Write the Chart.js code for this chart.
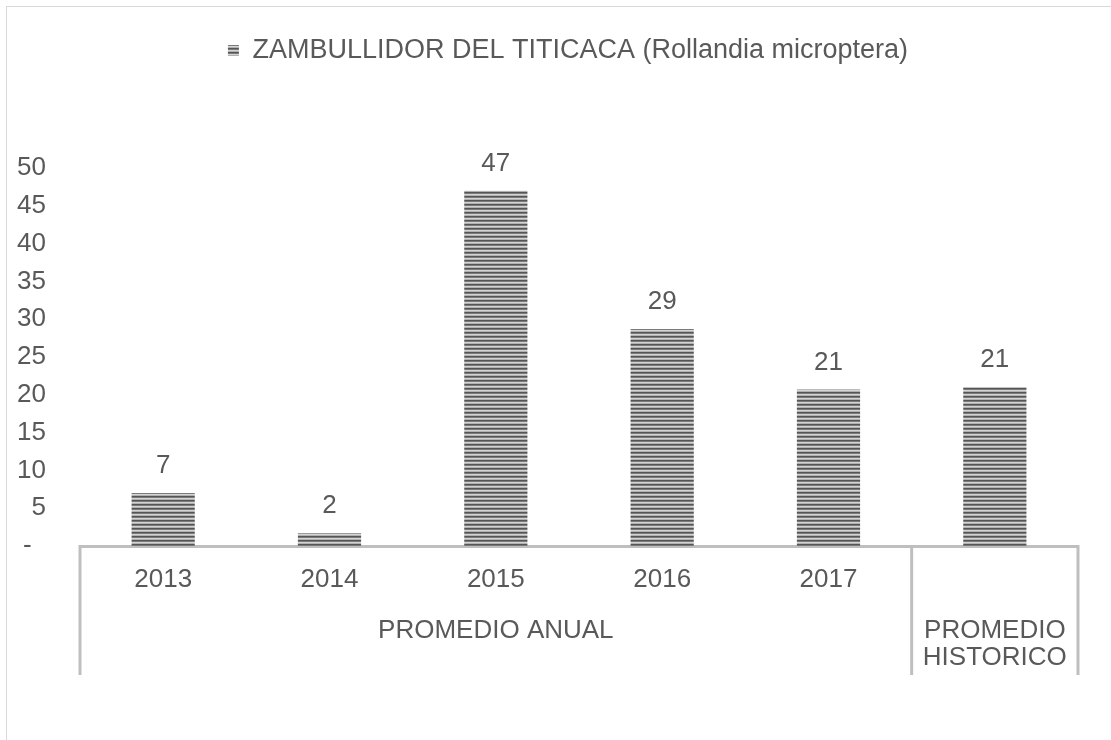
<!DOCTYPE html>
<html>
<head>
<meta charset="utf-8">
<script src="https://cdn.jsdelivr.net/npm/chart.js@4/dist/chart.umd.min.js"></script>
<style>
  html, body { margin: 0; padding: 0; background: #fff; overflow: hidden; }
  #wrap { position: relative; width: 1111px; height: 740px; }
  #frame { position: absolute; left: 6px; top: 6px; width: 1200px; height: 800px; border: 1px solid #d9d9d9; }
  canvas { position: absolute; left: 0; top: 0; }
</style>
</head>
<body>
<div id="wrap">
  <div id="frame"></div>
  <canvas id="grafico" width="1111" height="740"></canvas>
</div>
<script>
// Datos
const categorias = ['2013', '2014', '2015', '2016', '2017', ''];
const valores = [7, 1.7, 47, 28.7, 20.7, 21];
const grupos = [['PROMEDIO ANUAL'], ['PROMEDIO', 'HISTORICO']];
const gruposSpan = [5, 1];
const serie = 'ZAMBULLIDOR DEL TITICACA (Rollandia microptera)';

const gris = '#595959';
const fuente = 'Liberation Sans, Arial, sans-serif';
const tam = 26;

// Relleno rayado horizontal
function rayado() {
    const c = document.createElement('canvas');
    c.width = 4; c.height = 4;
    const g = c.getContext('2d');
    const filas = ['#555555', '#7a7a7a', '#d4d4d4', '#b0b0b0'];
    filas.forEach(function(col, i) {
        g.fillStyle = col;
        g.fillRect(0, i, 4, 1);
    });
    return g.createPattern(c, 'repeat');
}

// Etiquetas de valor sobre las barras
const etiquetas = {
    id: 'etiquetas',
    afterDatasetsDraw(chart) {
        const ctx = chart.ctx;
        const meta = chart.getDatasetMeta(0);
        ctx.save();
        ctx.font = tam + 'px ' + fuente;
        ctx.fillStyle = gris;
        ctx.textAlign = 'center';
        ctx.textBaseline = 'middle';
        meta.data.forEach(function(bar, i) {
            ctx.fillText(Math.round(valores[i]), bar.x, bar.y - 27);
        });
        ctx.restore();
    }
};

// Eje de categorías en dos niveles
const grupoEje = {
    id: 'grupoEje',
    afterDraw(chart) {
        const x = chart.scales.x;
        const ctx = chart.ctx;
        const ancho = x.getPixelForValue(1) - x.getPixelForValue(0);
        ctx.save();
        ctx.strokeStyle = '#bfbfbf';
        ctx.lineWidth = 3;
        ctx.font = tam + 'px ' + fuente;
        ctx.fillStyle = gris;
        ctx.textAlign = 'center';
        ctx.textBaseline = 'middle';
        let inicio = 0;
        const bordes = [x.getPixelForValue(0) - ancho / 2];
        grupos.forEach(function(lineas, g) {
            const fin = inicio + gruposSpan[g] - 1;
            const izq = x.getPixelForValue(inicio) - ancho / 2;
            const der = x.getPixelForValue(fin) + ancho / 2;
            bordes.push(der);
            lineas.forEach(function(t, k) {
                ctx.fillText(t, (izq + der) / 2, x.top + 85 + k * 27);
            });
            inicio = fin + 1;
        });
        bordes.forEach(function(px) {
            ctx.beginPath();
            ctx.moveTo(px, x.top - 1);
            ctx.lineTo(px, x.bottom);
            ctx.stroke();
        });
        ctx.restore();
    }
};

// Espacio extra bajo la leyenda y leyenda centrada sobre el área del gráfico
const ajusteLeyenda = {
    id: 'ajusteLeyenda',
    beforeInit(chart) {
        const fit = chart.legend.fit;
        chart.legend.fit = function() {
            fit.bind(chart.legend)();
            this.height += 94;
        };
    },
    afterLayout(chart) {
        const lg = chart.legend;
        const desplazo = (chart.chartArea.left + chart.chartArea.right) / 2 - (lg.left + lg.right) / 2 - 11;
        lg.left += desplazo;
        lg.right += desplazo;
        lg.legendHitBoxes.forEach(function(h) { h.left += desplazo; });
    }
};

document.addEventListener('DOMContentLoaded', function() {
    const ctx = document.getElementById('grafico').getContext('2d');
    const relleno = rayado();
    new Chart(ctx, {
        type: 'bar',
        data: {
            labels: categorias,
            datasets: [{
                label: serie,
                data: valores,
                backgroundColor: relleno,
                borderWidth: 0,
                categoryPercentage: 1,
                barPercentage: 0.38
            }]
        },
        options: {
            responsive: false,
            animation: false,
            layout: { padding: { left: 6, right: 33, top: 27, bottom: 65 } },
            plugins: {
                legend: {
                    position: 'top',
                    labels: {
                        color: gris,
                        font: { family: fuente, size: 27 },
                        boxWidth: 11,
                        boxHeight: 11,
                        padding: 10
                    }
                },
                tooltip: { enabled: false }
            },
            scales: {
                x: {
                    grid: { display: false, drawTicks: false },
                    border: { color: '#bfbfbf', width: 3 },
                    ticks: {
                        color: gris,
                        font: { family: fuente, size: tam },
                        padding: 18,
                        maxRotation: 0
                    },
                    afterFit(scale) { scale.height = 129; }
                },
                y: {
                    min: 0,
                    max: 50,
                    grid: { display: false, drawTicks: false },
                    border: { display: false },
                    ticks: {
                        stepSize: 5,
                        color: gris,
                        font: { family: fuente, size: tam },
                        padding: 34,
                        callback: function(v) { return v === 0 ? '-  ' : v; }
                    },
                    afterFit(scale) { scale.width = 74; }
                }
            }
        },
        plugins: [etiquetas, grupoEje, ajusteLeyenda]
    });
});
</script>
</body>
</html>
